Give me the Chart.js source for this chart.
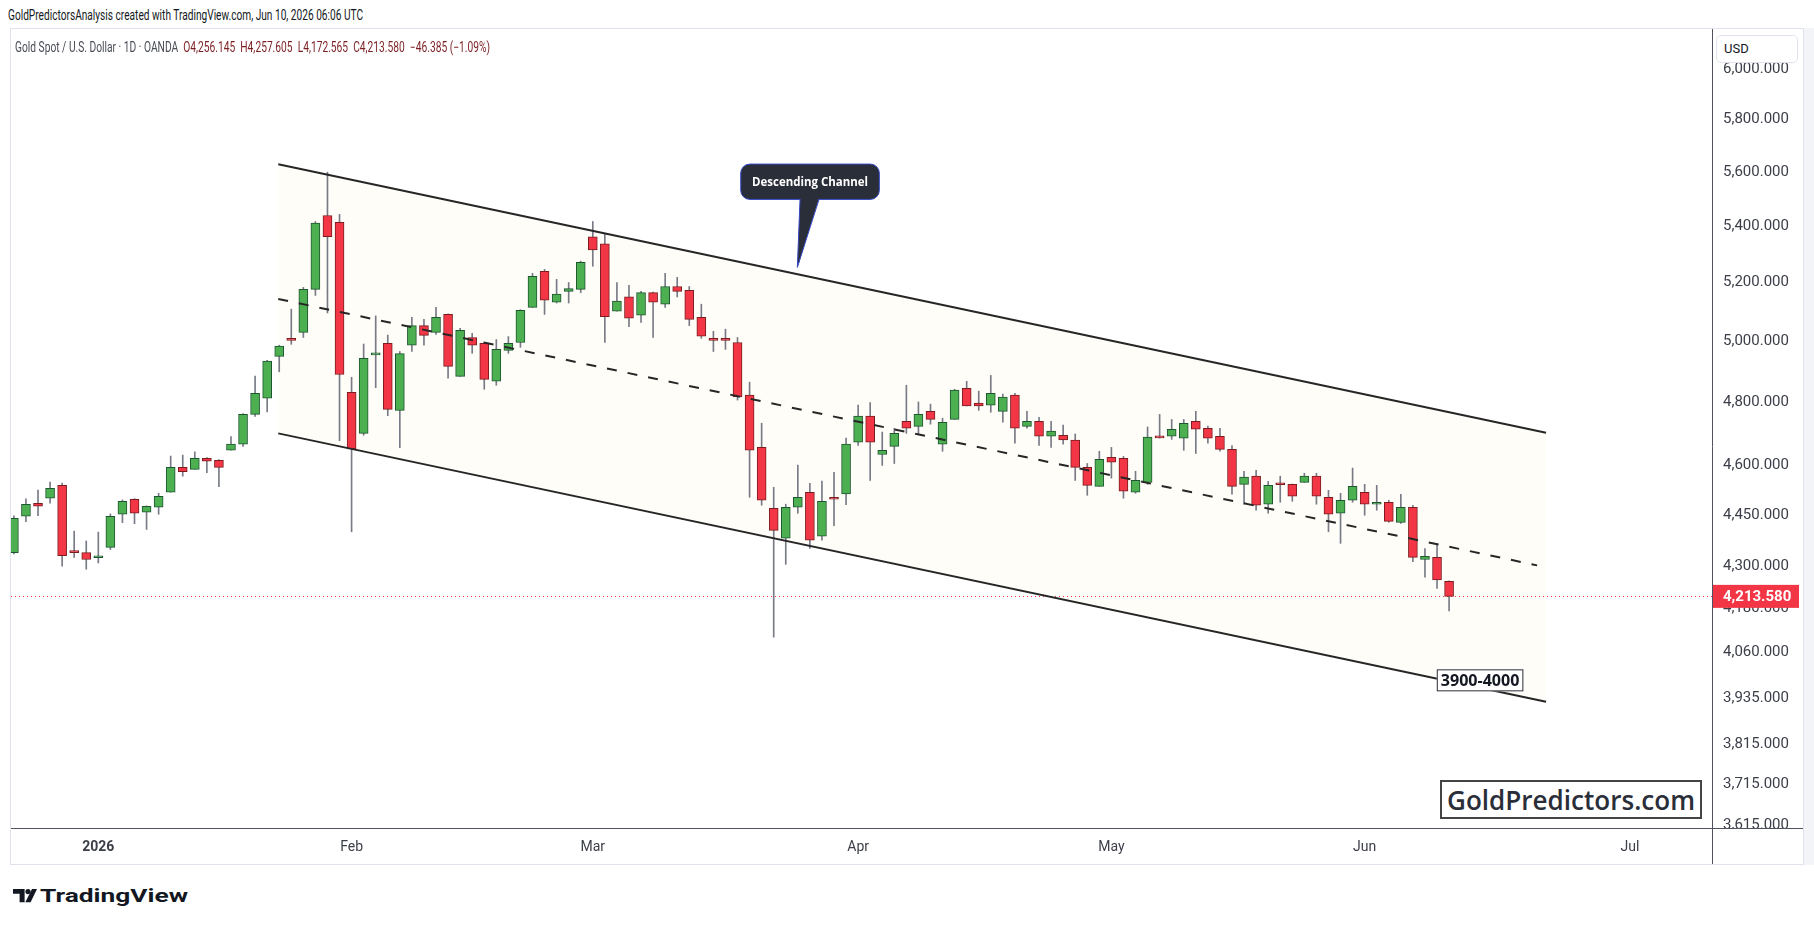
<!DOCTYPE html>
<html>
<head>
<meta charset="utf-8">
<title>Gold Spot / U.S. Dollar - 1D</title>
<script src="https://cdn.jsdelivr.net/npm/chart.js@4.4.1/dist/chart.umd.min.js"></script>
<style>
    html, body { margin: 0; padding: 0; background: #fff; }
    body { width: 1814px; height: 932px; position: relative; overflow: hidden;
           font-family: Roboto, "Open Sans", sans-serif; color: #131722; }
    .abs  { position: absolute; white-space: nowrap; }
    .fit  { display: inline-block; transform-origin: 0 50%; }
    #pane { position: absolute; left: 10px; top: 28px; width: 1792px; height: 835px; border: 1px solid #e0e3eb; }
    #rightStrip { position: absolute; left: 1804px; top: 28px; width: 10px; height: 837px; background: #f3f4f7; }
    #chartWrap { position: absolute; left: 11px; top: 29px; width: 1792px; height: 835px; }
    #header { left: 8px; top: 6px; font-size: 14px; line-height: 18px; color: #131722; }
    #legend { left: 15px; top: 38px; font-size: 14px; line-height: 18px; color: #4a4d57; }
    #legend .v { color: #7b1f22; }
    #usd { left: 1716px; top: 35px; width: 82px; height: 28px; box-sizing: border-box;
           border: 1px solid #e0e3eb; border-radius: 5px; background: #fff;
           font-size: 13px; line-height: 26px; padding-left: 7px; }
    #brand { left: 1440px; top: 780px; width: 262px; height: 39px; box-sizing: border-box;
             border: 2px solid #444; background: #fff; padding-left: 5px;
             font-family: "Open Sans", sans-serif; font-weight: 600; font-size: 27px; line-height: 35px; color: #2a2e39; }
    #tvMark { left: 13px; top: 889px; }
    #tvText { left: 40px; top: 885px; font-size: 19px; line-height: 22px; font-weight: 700; color: #131722; }
</style>
</head>
<body>

<div id="pane"></div>
<div id="rightStrip"></div>
<div id="chartWrap"><canvas id="chartGold" width="1792" height="835"></canvas></div>

<div class="abs" id="header"><span class="fit" id="headerText">GoldPredictorsAnalysis created with TradingView.com, Jun 10, 2026 06:06 UTC</span></div>
<div class="abs" id="legend"><span class="fit" id="legendText"></span></div>
<div class="abs" id="usd">USD</div>
<div class="abs" id="brand"><span class="fit" id="brandText">GoldPredictors.com</span></div>

<svg class="abs" id="tvMark" width="24" height="14" viewBox="0 0 24 14">
    <path d="M0 0H11.6V13.3H6.6V4.7H0Z" fill="#131722"/>
    <circle cx="15" cy="2.6" r="2.6" fill="#131722"/>
    <path d="M19 0H24L17.6 13.3H12.3Z" fill="#131722"/>
</svg>
<div class="abs" id="tvText"><span class="fit" id="tvTextInner">TradingView</span></div>

<script>
// ============================================
// Gold Spot / U.S. Dollar · 1D · OANDA
// candles drawn as floating bars (wick + body)
// ============================================

// ── Data (bar index 0 = Dec 22, 2025) ────
const CANDLE_OPEN = [
    4339, 4446, 4485, 4500, 4539, 4340, 4339, 4324, 4354, 4452,
    4497, 4458, 4473, 4518, 4594, 4588, 4622, 4616, 4647, 4666,
    4760, 4812, 4949, 5009, 5029, 5176, 5439, 5414, 4831, 4700,
    4954, 4992, 4773, 4986, 5052, 5029, 5090, 4883, 5012, 4992,
    4867, 4969, 4995, 5114, 5239, 5132, 5169, 5176, 5362, 5337,
    5101, 5150, 5087, 5165, 5125, 5186, 5173, 5080, 5009, 5006,
    4995, 4822, 4656, 4470, 4381, 4473, 4518, 4387, 4498, 4513,
    4672, 4755, 4634, 4659, 4738, 4722, 4770, 4666, 4744, 4844,
    4796, 4790, 4770, 4822, 4722, 4738, 4691, 4694, 4679, 4594,
    4536, 4625, 4622, 4518, 4548, 4688, 4691, 4685, 4738, 4716,
    4691, 4650, 4542, 4567, 4482, 4543, 4542, 4548, 4567, 4503,
    4455, 4494, 4518, 4482, 4488, 4428, 4473, 4319, 4325, 4256.145
];
const CANDLE_HIGH = [
    4447, 4498, 4525, 4549, 4546, 4402, 4373, 4399, 4453, 4495,
    4499, 4477, 4515, 4629, 4632, 4642, 4624, 4618, 4690, 4763,
    4884, 4936, 4986, 5108, 5183, 5417, 5599, 5443, 4880, 4990,
    5085, 5020, 4965, 5080, 5073, 5114, 5092, 5043, 5026, 4996,
    5005, 5015, 5106, 5232, 5246, 5211, 5200, 5275, 5417, 5374,
    5200, 5190, 5169, 5167, 5232, 5218, 5186, 5125, 5033, 5040,
    5012, 4864, 4732, 4533, 4482, 4601, 4545, 4552, 4579, 4685,
    4790, 4798, 4704, 4716, 4854, 4800, 4793, 4748, 4841, 4867,
    4835, 4886, 4825, 4828, 4770, 4751, 4738, 4726, 4698, 4606,
    4644, 4656, 4628, 4582, 4720, 4760, 4744, 4744, 4770, 4723,
    4716, 4662, 4582, 4585, 4551, 4567, 4543, 4576, 4576, 4524,
    4515, 4592, 4542, 4539, 4494, 4512, 4479, 4351, 4360, 4257.605
];
const CANDLE_LOW = [
    4335, 4430, 4448, 4485, 4300, 4325, 4291, 4309, 4348, 4427,
    4424, 4407, 4452, 4518, 4567, 4588, 4578, 4535, 4647, 4659,
    4754, 4768, 4898, 4989, 5012, 5155, 5095, 4677, 4400, 4694,
    4846, 4756, 4655, 4965, 4986, 5022, 4877, 4883, 4959, 4841,
    4854, 4959, 4979, 5114, 5090, 5129, 5129, 5165, 5257, 4995,
    5101, 5048, 5063, 5012, 5114, 5150, 5052, 5009, 4965, 4972,
    4806, 4503, 4479, 4100, 4305, 4455, 4351, 4375, 4418, 4481,
    4662, 4554, 4600, 4606, 4700, 4698, 4729, 4644, 4744, 4787,
    4773, 4767, 4735, 4669, 4716, 4662, 4656, 4666, 4554, 4509,
    4536, 4561, 4500, 4515, 4542, 4685, 4681, 4647, 4637, 4669,
    4644, 4512, 4482, 4464, 4455, 4488, 4491, 4548, 4482, 4400,
    4366, 4488, 4449, 4464, 4428, 4425, 4313, 4268, 4236, 4172.565
];
const CANDLE_CLOSE = [
    4440, 4482, 4476, 4530, 4330, 4339, 4319, 4328, 4446, 4491,
    4455, 4476, 4506, 4594, 4581, 4622, 4613, 4594, 4666, 4760,
    4828, 4933, 4983, 5002, 5176, 5411, 5362, 4889, 4651, 4942,
    4956, 4776, 4958, 5052, 5019, 5080, 4916, 5036, 4986, 4873,
    4972, 4992, 5104, 5222, 5139, 5160, 5179, 5271, 5315, 5082,
    5136, 5077, 5165, 5132, 5186, 5169, 5073, 5016, 5002, 5002,
    4816, 4647, 4494, 4404, 4473, 4503, 4375, 4491, 4497, 4666,
    4755, 4672, 4647, 4700, 4716, 4760, 4744, 4735, 4838, 4787,
    4787, 4828, 4816, 4716, 4738, 4691, 4707, 4679, 4594, 4539,
    4619, 4610, 4521, 4554, 4688, 4686, 4713, 4732, 4713, 4685,
    4650, 4536, 4564, 4479, 4539, 4541, 4506, 4567, 4506, 4452,
    4494, 4536, 4482, 4485, 4431, 4473, 4325, 4328, 4259.965, 4213.58
];

// time axis: bar index of the first session of each month
const MONTH_TICK_INDEX = [7, 28, 48, 70, 91, 112, 134];
const MONTH_TICK_LABEL = ['2026', 'Feb', 'Mar', 'Apr', 'May', 'Jun', 'Jul'];

// price axis ticks
const PRICE_TICKS = [3615, 3715, 3815, 3935, 4060, 4180, 4300, 4450, 4600,
                     4800, 5000, 5200, 5400, 5600, 5800, 6000];

// descending channel (bar index / price at both ends)
const CHANNEL_X     = [21.92, 127.04];
const CHANNEL_UPPER = [5629, 4702];
const CHANNEL_LOWER = [4700, 3926];
const CHANNEL_MID_X = [21.92, 126.3];
const CHANNEL_MID   = [5143, 4302];

// annotations
const CALLOUT_TEXT = 'Descending Channel';
const CALLOUT_AT   = [64.96, 5253];
const ZONE_TEXT    = '3900-4000';
const ZONE_AT      = [121.57, 3983];

// ── Colors ────────────────────────────────
const UP_FILL     = '#4caf50';
const UP_BORDER   = '#1e5631';
const DOWN_FILL   = '#f23645';
const DOWN_BORDER = '#7a1c20';
const WICK_COLOR  = '#787b86';
const LINE_COLOR  = '#262626';
const AXIS_TEXT   = '#3b3e48';

function fmtPrice(v) {
    return v.toLocaleString('en-US', { minimumFractionDigits: 3, maximumFractionDigits: 3 });
}

// ── Header / legend text ──────────────────
const last  = CANDLE_CLOSE.length - 1;
const chg   = CANDLE_CLOSE[last] - CANDLE_CLOSE[last - 1];
const chgPc = chg / CANDLE_CLOSE[last - 1] * 100;
const minus = v => (v < 0 ? '\u2212' : '+') + Math.abs(v).toFixed(3);
document.getElementById('legendText').innerHTML =
    'Gold Spot / U.S. Dollar \u00b7 1D \u00b7 OANDA&nbsp; ' +
    '<span class="v">O' + fmtPrice(CANDLE_OPEN[last]) + '</span>&nbsp; ' +
    '<span class="v">H' + fmtPrice(CANDLE_HIGH[last]) + '</span>&nbsp; ' +
    '<span class="v">L' + fmtPrice(CANDLE_LOW[last]) + '</span>&nbsp; ' +
    '<span class="v">C' + fmtPrice(CANDLE_CLOSE[last]) + '</span>&nbsp; ' +
    '<span class="v">' + minus(chg) + ' (' + (chgPc < 0 ? '\u2212' : '+') + Math.abs(chgPc).toFixed(2) + '%)</span>';

function fitWidth(id, target) {
    const el = document.getElementById(id);
    const w  = el.getBoundingClientRect().width;
    if (w > 0) el.style.transform = 'scaleX(' + (target / w).toFixed(4) + ')';
}
fitWidth('headerText', 355);
fitWidth('legendText', 475);
fitWidth('brandText', 248);
fitWidth('tvTextInner', 148);

// ── Candle datasets ───────────────────────
const idx = CANDLE_OPEN.map((_, i) => i);
const isUp = i => CANDLE_CLOSE[i] >= CANDLE_OPEN[i];

const wickData = idx.map(i => ({ x: i, y: [CANDLE_LOW[i], CANDLE_HIGH[i]] }));
const bodyData = idx.map(i => ({ x: i, y: [CANDLE_OPEN[i], CANDLE_CLOSE[i]] }));

// ── Plugins ───────────────────────────────
function fitFont(ctx, text, weight, family, target) {
    ctx.font = weight + ' 20px ' + family;
    const size = 20 * target / ctx.measureText(text).width;
    ctx.font = weight + ' ' + size.toFixed(2) + 'px ' + family;
}

const channelFill = {
    id: 'channelFill',
    beforeDatasetsDraw(chart) {
        const { ctx, chartArea, scales: { x, y } } = chart;
        ctx.save();
        ctx.beginPath();
        ctx.rect(chartArea.left, chartArea.top, chartArea.right - chartArea.left, chartArea.bottom - chartArea.top);
        ctx.clip();

        // channel background
        ctx.beginPath();
        ctx.moveTo(x.getPixelForValue(CHANNEL_X[0]), y.getPixelForValue(CHANNEL_UPPER[0]));
        ctx.lineTo(x.getPixelForValue(CHANNEL_X[1]), y.getPixelForValue(CHANNEL_UPPER[1]));
        ctx.lineTo(x.getPixelForValue(CHANNEL_X[1]), y.getPixelForValue(CHANNEL_LOWER[1]));
        ctx.lineTo(x.getPixelForValue(CHANNEL_X[0]), y.getPixelForValue(CHANNEL_LOWER[0]));
        ctx.closePath();
        ctx.fillStyle = '#fffdf8';
        ctx.fill();

        // last price dotted line
        const py = Math.round(y.getPixelForValue(CANDLE_CLOSE[last])) + 0.5;
        ctx.setLineDash([1, 3]);
        ctx.strokeStyle = '#f23645';
        ctx.lineWidth = 1;
        ctx.beginPath();
        ctx.moveTo(chartArea.left, py);
        ctx.lineTo(chartArea.right, py);
        ctx.stroke();
        ctx.restore();
    }
};

const overlays = {
    id: 'overlays',
    afterDraw(chart) {
        const { ctx, chartArea, width, height, scales: { x, y } } = chart;
        ctx.save();

        // cover price-axis overflow below the time axis line
        ctx.fillStyle = '#fff';
        ctx.fillRect(chartArea.right + 1, chartArea.bottom + 1, width - chartArea.right, height - chartArea.bottom);

        // scale borders
        ctx.strokeStyle = '#50535e';
        ctx.lineWidth = 1;
        ctx.beginPath();
        ctx.moveTo(0, chartArea.bottom + 0.5);
        ctx.lineTo(width, chartArea.bottom + 0.5);
        ctx.moveTo(chartArea.right + 0.5, 0);
        ctx.lineTo(chartArea.right + 0.5, height);
        ctx.stroke();

        // last price label
        const py = y.getPixelForValue(CANDLE_CLOSE[last]);
        ctx.fillStyle = '#f23645';
        ctx.fillRect(chartArea.right + 1, py - 11.5, 86, 23);
        ctx.fillStyle = '#fff';
        ctx.font = 'bold 15px Roboto';
        ctx.textBaseline = 'middle';
        ctx.textAlign = 'left';
        ctx.fillText(fmtPrice(CANDLE_CLOSE[last]), chartArea.right + 11, py + 1);

        // "Descending Channel" callout
        const tx = x.getPixelForValue(CALLOUT_AT[0]);
        const ty = y.getPixelForValue(CALLOUT_AT[1]);
        const bx = tx - 56.6, by = ty - 103.3, bw = 138.6, bh = 35.3;
        ctx.beginPath();
        ctx.roundRect(bx, by, bw, bh, 9);
        ctx.moveTo(tx + 2.7, by + bh - 1);
        ctx.lineTo(tx + 21.7, by + bh - 1);
        ctx.lineTo(tx, ty);
        ctx.closePath();
        ctx.fillStyle = '#2a2e39';
        ctx.fill();
        ctx.strokeStyle = '#3448c5';
        ctx.lineWidth = 1;
        ctx.beginPath();
        ctx.roundRect(bx, by, bw, bh, 9);
        ctx.stroke();
        ctx.fillStyle = '#2a2e39';
        ctx.beginPath();
        ctx.moveTo(tx + 3.2, by + bh - 2);
        ctx.lineTo(tx + 21.2, by + bh - 2);
        ctx.lineTo(tx + 1, ty - 2);
        ctx.closePath();
        ctx.fill();
        ctx.strokeStyle = '#3448c5';
        ctx.beginPath();
        ctx.moveTo(tx + 2.7, by + bh);
        ctx.lineTo(tx, ty);
        ctx.lineTo(tx + 21.7, by + bh);
        ctx.stroke();
        ctx.fillStyle = '#fff';
        fitFont(ctx, CALLOUT_TEXT, 'bold', '"Open Sans"', 116);
        ctx.textAlign = 'center';
        ctx.fillText(CALLOUT_TEXT, bx + bw / 2, by + bh / 2 + 1);

        // "3900-4000" zone label
        const zx = x.getPixelForValue(ZONE_AT[0]);
        const zy = y.getPixelForValue(ZONE_AT[1]);
        ctx.fillStyle = '#fff';
        ctx.fillRect(zx - 43.3, zy - 11, 86.6, 22);
        ctx.strokeStyle = '#2a2e39';
        ctx.strokeRect(zx - 43.3 + 0.5, zy - 11 + 0.5, 85.6, 21);
        ctx.fillStyle = '#131722';
        fitFont(ctx, ZONE_TEXT, 'bold', '"Open Sans"', 78.7);
        ctx.fillText(ZONE_TEXT, zx, zy + 1);

        ctx.restore();
    }
};

// ── Chart ─────────────────────────────────
new Chart(document.getElementById('chartGold'), {
    type: 'bar',
    data: {
        datasets: [
            {
                type: 'line',
                data: CHANNEL_X.map((v, i) => ({ x: v, y: CHANNEL_UPPER[i] })),
                borderColor: LINE_COLOR, borderWidth: 2, pointRadius: 0, fill: false, order: 0
            },
            {
                type: 'line',
                data: CHANNEL_X.map((v, i) => ({ x: v, y: CHANNEL_LOWER[i] })),
                borderColor: LINE_COLOR, borderWidth: 2, pointRadius: 0, fill: false, order: 0
            },
            {
                type: 'line',
                data: CHANNEL_MID_X.map((v, i) => ({ x: v, y: CHANNEL_MID[i] })),
                borderColor: LINE_COLOR, borderWidth: 2, borderDash: [10, 11],
                pointRadius: 0, fill: false, order: 0
            },
            {
                data: bodyData,
                backgroundColor: idx.map(i => isUp(i) ? UP_FILL : DOWN_FILL),
                borderColor: idx.map(i => isUp(i) ? UP_BORDER : DOWN_BORDER),
                borderWidth: 1,
                borderSkipped: false,
                barThickness: 9,
                minBarLength: 2,
                grouped: false,
                order: 1
            },
            {
                data: wickData,
                backgroundColor: WICK_COLOR,
                borderWidth: 0,
                barThickness: 1,
                grouped: false,
                order: 2
            }
        ]
    },
    options: {
        responsive: false,
        animation: false,
        events: [],
        layout: { padding: 0 },
        plugins: {
            legend: { display: false },
            tooltip: { enabled: false }
        },
        scales: {
            x: {
                type: 'linear',
                offset: false,
                min: -0.24,
                max: 140.8,
                grid: { display: false, drawTicks: false },
                border: { display: false },
                afterBuildTicks: scale => {
                    scale.ticks = MONTH_TICK_INDEX.map(v => ({ value: v }));
                },
                afterFit: scale => {
                    scale.height = 36;
                    scale.paddingLeft = 0;
                    scale.paddingRight = 0;
                },
                ticks: {
                    autoSkip: false,
                    maxRotation: 0,
                    padding: 11,
                    color: AXIS_TEXT,
                    font: ctx => ({
                        family: 'Roboto',
                        size: 14,
                        weight: ctx.tick && ctx.tick.value === MONTH_TICK_INDEX[0] ? 'bold' : 'normal'
                    }),
                    callback: v => MONTH_TICK_LABEL[MONTH_TICK_INDEX.indexOf(v)]
                }
            },
            y: {
                type: 'logarithmic',
                position: 'right',
                min: 3607.7,
                max: 6163,
                grid: { display: false, drawTicks: false },
                border: { display: false },
                afterBuildTicks: scale => {
                    scale.ticks = PRICE_TICKS.map(v => ({ value: v }));
                },
                afterFit: scale => {
                    scale.width = 91;
                    scale.paddingTop = 0;
                    scale.paddingBottom = 0;
                },
                ticks: {
                    autoSkip: false,
                    padding: 11,
                    color: AXIS_TEXT,
                    font: { family: 'Roboto', size: 15 },
                    callback: v => fmtPrice(v)
                }
            }
        }
    },
    plugins: [channelFill, overlays]
});
</script>
</body>
</html>
